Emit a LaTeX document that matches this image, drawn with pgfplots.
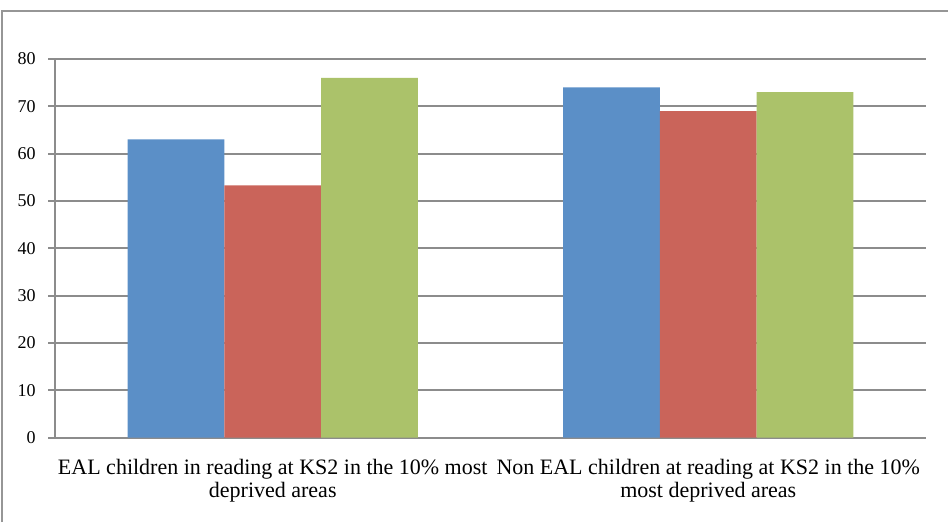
\documentclass[border=0pt]{standalone}
\usepackage{pgfplots}
\pgfplotsset{compat=1.18}
\usepackage{fontspec}
\setmainfont{Liberation Serif}

\definecolor{barblue}{RGB}{91,143,199}
\definecolor{barred}{RGB}{202,100,90}
\definecolor{bargreen}{RGB}{171,194,106}
\definecolor{gridgray}{RGB}{140,140,140}
\definecolor{framegray}{RGB}{150,150,150}

\begin{document}
\begin{tikzpicture}[x=0.75pt,y=0.75pt]
  % page: 948 x 522 px, 1px = 0.75pt
  \useasboundingbox (0,0) rectangle (948,522);
  % partial frame: left and top edges
  \draw[framegray, line width=1.5pt] (2,0) -- (2,511) -- (948,511);
  \begin{axis}[
    at={(41.25pt,63.375pt)}, anchor=south west,
    scale only axis,
    width=653.25pt, height=283.875pt,
    ybar=0pt,
    bar width=0.222,
    xmin=-0.5, xmax=1.5,
    ymin=0, ymax=80,
    ytick={0,10,...,80},
    xtick={0,1},
    xticklabels={EAL children in reading at KS2 in the 10\% most\\deprived areas,
                 Non EAL children at reading at KS2 in the 10\%\\most deprived areas},
    xticklabel style={align=center, font=\fontsize{16.5pt}{17.3pt}\selectfont, yshift=-7.5pt},
    major x tick style={draw=none},
    extra x ticks={-0.5,0.5,1.5},
    extra x tick labels={},
    extra x tick style={major tick length=5pt, tick style={draw=gridgray, line width=1.5pt}, grid=none},
    axis x line=bottom, axis y line=left,
    axis line style={-, draw=gridgray, line width=1.5pt},
    tick align=outside,
    major tick length=5pt,
    y tick style={draw=gridgray, line width=1.5pt},
    ymajorgrids,
    major grid style={draw=gridgray, line width=1.5pt},
    yticklabel style={font=\fontsize{13.5pt}{15pt}\selectfont, xshift=-6pt},
    /pgf/number format/assume math mode=true,
    enlarge x limits=false,
    clip=false,
  ]
    \addplot[fill=barblue, draw=none] coordinates {(0,63) (1,74)};
    \addplot[fill=barred, draw=none] coordinates {(0,53.3) (1,69)};
    \addplot[fill=bargreen, draw=none] coordinates {(0,76) (1,73)};
  \end{axis}
\end{tikzpicture}
\end{document}
